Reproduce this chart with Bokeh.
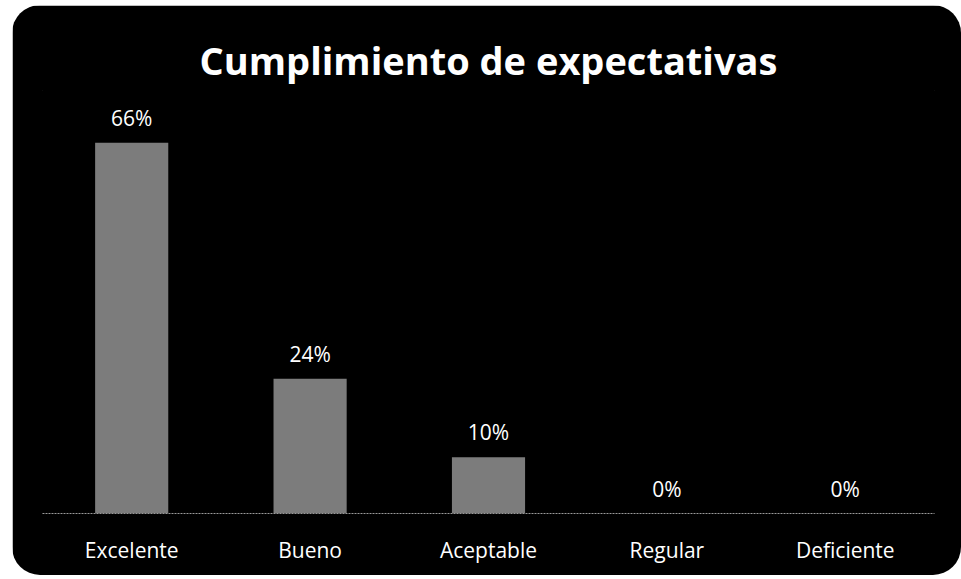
from bokeh.plotting import figure
from bokeh.models import ColumnDataSource, Range1d
from bokeh.core.properties import value
from bokeh.embed import file_html
from bokeh.resources import INLINE

categories = ["Excelente", "Bueno", "Aceptable", "Regular", "Deficiente"]
values = [66, 24, 10, 0, 0]
labels = ["66%", "24%", "10%", "0%", "0%"]
title_text = "Cumplimiento de expectativas"

src = ColumnDataSource(dict(cat=categories, val=values, lab=labels))

p = figure(x_range=categories, y_range=Range1d(0, 75.3), width=949, height=570,
           output_backend="svg", toolbar_location=None,
           min_border_left=30, min_border_right=27, min_border_bottom=62, min_border_top=85)
p.margin = (5, 0, 0, 12)
p.styles = {"border-radius": "28px", "overflow": "hidden"}
p.background_fill_color = "black"
p.border_fill_color = "black"
p.outline_line_color = "black"
p.grid.visible = False
p.yaxis.visible = False

p.title.text = title_text
p.title.text_color = "white"
p.title.text_font = "Open Sans"
p.title.text_font_style = "bold"
p.title.text_font_size = "38px"
p.title.align = "center"

p.vbar(x="cat", top="val", width=0.41, source=src, fill_color="#7c7c7c", line_color=None)
p.text(x="cat", y="val", text="lab", source=src, text_color="white",
       text_font=value("Open Sans"), text_font_size="21px", text_align="center",
       text_baseline="bottom", y_offset=-11)

ax = p.xaxis[0]
ax.axis_line_color = "#9a9a9a"
ax.axis_line_width = 1
ax.axis_line_dash = "2 1"
ax.major_tick_line_color = None
ax.minor_tick_line_color = None
ax.major_label_text_color = "white"
ax.major_label_text_font = "Open Sans"
ax.major_label_text_font_size = "21px"
ax.major_label_standoff = 16

open("out.html", "w").write(file_html(p, INLINE))
